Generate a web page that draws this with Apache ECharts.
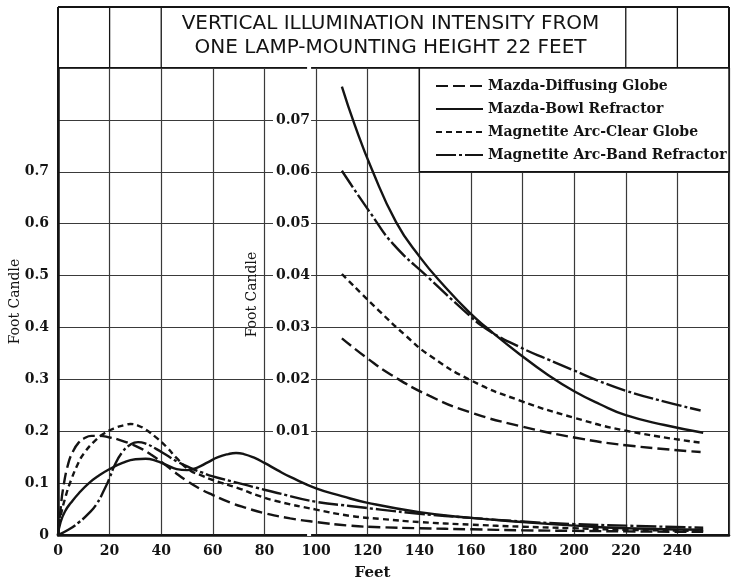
<!DOCTYPE html>
<html><head><meta charset="utf-8">
<script src="https://cdn.jsdelivr.net/npm/echarts@6/dist/echarts.min.js"></script>
<style>html,body{margin:0;padding:0;background:#fff}#c{width:732px;height:581px}</style>
</head><body><div id="c"></div>
<script>
// ---- names / titles ----
const titleLines = ['VERTICAL ILLUMINATION INTENSITY FROM', 'ONE LAMP-MOUNTING HEIGHT 22 FEET'];
const seriesNames = ['Mazda-Diffusing Globe', 'Mazda-Bowl Refractor', 'Magnetite Arc-Clear Globe', 'Magnetite Arc-Band Refractor'];
const xLabelMax = 240;          // last labelled x tick
const yLabelMaxLeft = 0.7;      // last labelled left tick
const rightLabels = ['0.01','0.02','0.03','0.04','0.05','0.06','0.07'];

// ---- lower curves (left scale, 0-0.9 foot candle) ----
const diffusingLowFeet = [0,1,2,4,6,8,10,13,16,20,24,28,32,36,40,45,50,55,60,67,73,80,90,100,113,125,140,160,180,200,220,250];
const diffusingLowFc   = [0,0.05,0.09,0.138,0.163,0.178,0.186,0.191,0.191,0.188,0.183,0.176,0.167,0.155,0.141,0.122,0.104,0.089,0.077,0.062,0.052,0.042,0.032,0.025,0.018,0.015,0.013,0.011,0.009,0.008,0.007,0.006];

const bowlLowFeet = [0,1,3,5,8,12,16,20,25,30,34,38,42,46,50,54,58,62,66,69,72,76,80,85,90,100,110,120,140,160,180,200,220,250];
const bowlLowFc   = [0,0.025,0.048,0.062,0.08,0.1,0.115,0.127,0.139,0.146,0.147,0.143,0.135,0.127,0.125,0.13,0.14,0.15,0.156,0.158,0.156,0.149,0.139,0.125,0.112,0.09,0.075,0.062,0.044,0.033,0.025,0.018,0.013,0.010];

const clearLowFeet = [0,1,3,5,8,10,14,18,22,26,28,31,34,38,42,46,51,56,60,70,77,85,100,113,125,140,160,180,200,220,250];
const clearLowFc   = [0,0.035,0.075,0.105,0.14,0.157,0.18,0.196,0.206,0.212,0.214,0.211,0.203,0.188,0.17,0.148,0.125,0.114,0.106,0.09,0.077,0.065,0.049,0.037,0.031,0.025,0.020,0.016,0.013,0.010,0.008];

const bandLowFeet = [0,4,8,12,15,18,20,22,25,28,31,34,38,42,46,51,56,60,70,77,85,100,113,125,140,160,180,200,220,250];
const bandLowFc   = [0,0.01,0.024,0.042,0.06,0.088,0.11,0.135,0.16,0.174,0.179,0.176,0.166,0.154,0.142,0.13,0.12,0.113,0.1,0.091,0.081,0.064,0.056,0.049,0.041,0.033,0.026,0.021,0.018,0.014];

// ---- upper curves (magnified right scale, 0-0.07 foot candle) ----
const diffusingHighFeet = [110,120,129,144,160,179,200,220,249];
const diffusingHighFc   = [0.0279,0.0240,0.0209,0.0168,0.0136,0.0110,0.0088,0.0073,0.006];

const bowlHighFeet = [110,115,121.6,131,140,150,160,166,179,190,200,210,220,235,250];
const bowlHighFc   = [0.0764,0.069,0.0605,0.0503,0.0437,0.0378,0.0326,0.030,0.0248,0.0208,0.0177,0.0152,0.0131,0.0112,0.0097];

const clearHighFeet = [110,124,135,144,160,179,200,220,249];
const clearHighFc   = [0.0403,0.0334,0.0283,0.0246,0.0198,0.0159,0.0126,0.0101,0.0078];

const bandHighFeet = [110,121,130,144,157,166,179,190,200,210,220,235,249];
const bandHighFc   = [0.0602,0.0521,0.046,0.0394,0.0334,0.0297,0.0262,0.0238,0.0217,0.0196,0.0178,0.0157,0.014];

// ---- build ----
const zip = (xs, ys) => xs.map((x, i) => [x, ys[i]]);
const ink = '#141414';
const dashes = [[12,5], 'solid', [6,4], [20,3,3,3]];
const lowSets = [[diffusingLowFeet, diffusingLowFc],[bowlLowFeet, bowlLowFc],[clearLowFeet, clearLowFc],[bandLowFeet, bandLowFc]];
const highSets = [[diffusingHighFeet, diffusingHighFc],[bowlHighFeet, bowlHighFc],[clearHighFeet, clearHighFc],[bandHighFeet, bandHighFc]];

const G = {left: 58, right: 3, top: 68, bottom: 46};
const W = 732;
const xMax = 260;
const x100px = G.left + 100 / xMax * (W - G.left - G.right);

const series = [];
[[lowSets, 0], [highSets, 1]].forEach(([sets, yi]) => {
  seriesNames.forEach((n, i) => {
    series.push({
      name: n, type: 'line', xAxisIndex: 0, yAxisIndex: yi,
      data: zip(sets[i][0], sets[i][1]),
      smooth: 0.5, symbol: 'none', showSymbol: false, z: 3, color: ink,
      itemStyle: {color: ink},
      lineStyle: {color: ink, width: 2.4, type: dashes[i], cap: 'butt'}
    });
  });
});

const serifBold = {fontFamily: 'DejaVu Serif', fontWeight: 'bold', color: ink};
const chart = echarts.init(document.getElementById('c'), null, {renderer: 'canvas'});
chart.setOption({
  animation: false,
  backgroundColor: '#fff',
  grid: {left: G.left, right: G.right, top: G.top, bottom: G.bottom, containLabel: false, outerBoundsMode: 'none',
    show: true, borderColor: ink, borderWidth: 2, backgroundColor: 'transparent'},
  legend: {
    orient: 'vertical', left: 430, top: 74, itemWidth: 47, itemHeight: 14, itemGap: 9,
    data: seriesNames, z: 10, selectedMode: false,
    itemStyle: {opacity: 0},
    textStyle: Object.assign({fontSize: 14}, serifBold)
  },
  xAxis: {
    type: 'value', min: 0, max: xMax, interval: 20,
    name: 'Feet', nameLocation: 'middle', nameGap: 31,
    nameTextStyle: Object.assign({fontSize: 15, padding: [0, 42, 0, 0]}, serifBold),
    axisLine: {show: true, lineStyle: {color: ink, width: 2.5}},
    axisTick: {show: false},
    splitLine: {show: true, lineStyle: {color: '#3a3a3a', width: 1.2}},
    axisLabel: Object.assign({fontSize: 14, margin: 9, formatter: v => v <= xLabelMax ? String(v) : ''}, serifBold)
  },
  yAxis: [{
    type: 'value', min: 0, max: 0.9, interval: 0.1, position: 'left',
    name: 'Foot Candle', nameLocation: 'middle', nameGap: 36, nameMoveOverlap: false,
    nameTextStyle: {fontFamily: 'DejaVu Serif', fontSize: 14, color: ink},
    axisLine: {show: true, lineStyle: {color: ink, width: 2.5}},
    axisTick: {show: false},
    splitLine: {show: true, lineStyle: {color: '#3a3a3a', width: 1.2}},
    axisLabel: Object.assign({fontSize: 14, margin: 9, formatter: v => {
      const r = Math.round(v * 10);
      if (r / 10 > yLabelMaxLeft + 1e-9) return '';
      return r === 0 ? '0' : (r / 10).toFixed(1);
    }}, serifBold)
  }, {
    type: 'value', min: -0.01, max: 0.08, interval: 0.01, position: 'left',
    offset: -(x100px - G.left),
    name: 'Foot Candle', nameLocation: 'middle', nameGap: 57,
    nameTextStyle: {fontFamily: 'DejaVu Serif', fontSize: 14, color: ink, padding: [0, 0, 0, 14]},
    axisLine: {show: false}, axisTick: {show: false}, splitLine: {show: false},
    axisLabel: Object.assign({fontSize: 14, margin: 5, backgroundColor: '#fff', padding: [1, 1, 1, 3], formatter: v => {
      const r = Math.round(v * 100);
      return (r >= 1 && r <= 7) ? rightLabels[r - 1] : '';
    }}, serifBold)
  }],
  series: series
});

// decorations: title row cells, title text and legend box, positioned from the axes
const px = v => chart.convertToPixel({xAxisIndex: 0}, v);
const py = v => chart.convertToPixel({yAxisIndex: 0}, v);
const topY = 7;
const yTop = py(0.9);
const gfx = [];
[0, 20, 40, 220, 240, 260].forEach(f => {
  gfx.push({type: 'line', z: 5, shape: {x1: px(f), y1: topY, x2: px(f), y2: yTop},
    style: {stroke: ink, lineWidth: (f === 0 || f === 260) ? 2 : 1.3}});
});
gfx.push({type: 'line', z: 5, shape: {x1: px(0), y1: topY, x2: px(260), y2: topY}, style: {stroke: ink, lineWidth: 2}});
gfx.push({type: 'text', z: 6, style: {text: titleLines.join('\n'), x: (px(40) + px(220)) / 2 - 3, y: (topY + yTop) / 2 - 2,
  align: 'center', verticalAlign: 'middle', font: '20px "DejaVu Sans"', lineHeight: 24, fill: ink}});
gfx.push({type: 'rect', z: 4, shape: {x: px(140), y: yTop, width: px(260) - px(140), height: py(0.7) - yTop},
  style: {fill: '#fff', stroke: ink, lineWidth: 1.5}});
chart.setOption({graphic: gfx});
</script>
</body></html>
